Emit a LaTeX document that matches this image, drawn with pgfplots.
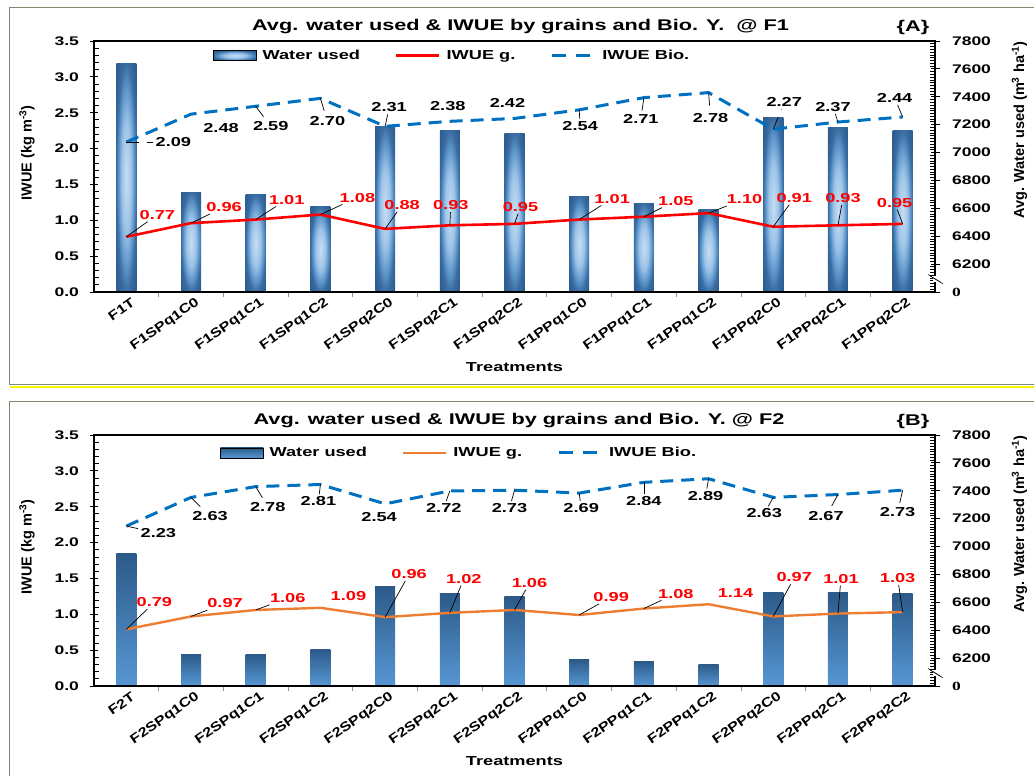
\documentclass[border=0pt]{standalone}
\usepackage{pgfplots}
\usepackage{pgfplotstable}
\pgfplotsset{compat=1.18}
\usepackage{fontspec}
\setmainfont{Liberation Sans}[FakeStretch=1.4]
\newfontfamily\xtfont{Liberation Sans}[FakeStretch=1.25]
\newfontfamily\ylfont{Liberation Sans}
\newfontfamily\zfont{Liberation Serif}[FakeStretch=1.4]

\definecolor{barlight}{HTML}{C8DEF2}
\definecolor{barmid}{HTML}{9CC3E8}
\definecolor{barmid2}{HTML}{5A92C8}
\definecolor{baredge}{HTML}{3A6DA2}
\definecolor{bardark}{HTML}{2D5F93}
\definecolor{bartop}{HTML}{2C5A89}
\definecolor{barbot}{HTML}{5797D4}
\definecolor{biob}{HTML}{0070C0}
\definecolor{orng}{HTML}{ED7D31}
\definecolor{framec}{HTML}{7D8A6B}
\definecolor{axgray}{HTML}{8C96A0}
\pgfdeclareradialshading{barrad}{\pgfpoint{0bp}{0bp}}{color(0bp)=(barlight); color(12bp)=(barmid); color(20bp)=(barmid2); color(25bp)=(baredge); color(32bp)=(bardark); color(50bp)=(bardark)}

\pgfplotstableread{
x w g gdx gdy gl b bdx bdy bl
0 7640 0.77 31 22 1 2.09 47 0 1
1 6717 0.96 33 16 1 2.48 30 -14 0
2 6696 1.01 31 20 1 2.59 15 -20 1
3 6610 1.08 37 17 1 2.70 7 -23 1
4 7190 0.88 17 24 1 2.31 4 19 1
5 7155 0.93 1 20 1 2.38 -2 15 0
6 7140 0.95 6 17 1 2.42 -7 15 0
7 6685 1.01 33 21 1 2.54 1 -16 1
8 6636 1.05 32 16 1 2.71 -3 -21 1
9 6593 1.10 36 14 1 2.78 2 -25 1
10 7249 0.91 21 29 1 2.27 11 27 1
11 7178 0.93 5 27 1 2.37 -5 15 1
12 7156 0.95 -8 21 1 2.44 -8 19 1
}\tabA

\pgfplotstableread{
x w g gdx gdy gl b bdx bdy bl
0 6952 0.79 28 27 1 2.23 32 -7 1
1 6227 0.97 34 13 1 2.63 19 -19 1
2 6227 1.06 32 12 1 2.78 12 -20 1
3 6263 1.09 28 12 0 2.81 -2 -17 1
4 6714 0.96 24 43 1 2.54 -6 -13 0
5 6664 1.02 14 34 1 2.72 -6 -17 1
6 6642 1.06 15 27 1 2.73 -5 -18 1
7 6191 0.99 32 18 1 2.69 2 -15 1
8 6177 1.08 32 15 1 2.84 0 -19 1
9 6155 1.14 27 11 0 2.89 -3 -17 1
10 6671 0.97 21 39 1 2.63 -9 -16 1
11 6671 1.01 3 35 1 2.67 -12 -22 1
12 6664 1.03 -5 34 1 2.73 -5 -22 1
}\tabB

\pgfplotsset{
  base/.style={
    scale only axis, width=841pt, height=251pt, anchor=south west,
    xmin=-0.5, xmax=12.5, clip=false,
    tick align=center, major tick length=9pt, minor tick length=5pt,
    every tick/.style={black, line width=0.8pt},
    tick label style={font=\fontsize{12.5}{14}\selectfont\bfseries},
    label style={font=\fontsize{14.5}{16}\ylfont\bfseries},
  },
  barax/.style={
    base, ymin=0, ymax=1800, axis x line=none, axis y line*=right,
    y axis line style={black, line width=1.3pt},
    ytick={0,200,...,1800},
    yticklabels={{\zfont\bfseries 0},6200,6400,6600,6800,7000,7200,7400,7600,7800},
    yticklabel style={xshift=9pt},
    minor y tick num=9,
    minor y tick style={xshift=-2.5pt},
    ylabel={Avg. Water used (m\textsuperscript{3} ha\textsuperscript{-1})},
    ylabel style={at={(ticklabel cs:0.645,14pt)}},
  },
  lineax/.style={
    base, ymin=0, ymax=3.5,
    x axis line style={axgray, line width=1pt},
    y axis line style={black, line width=1.3pt},
    xtick pos=bottom, ytick pos=left,
    ytick={0,0.5,...,3.5}, yticklabels={0.0,0.5,1.0,1.5,2.0,2.5,3.0,3.5},
    yticklabel style={xshift=-7pt},
    minor y tick num=4, minor y tick style={xshift=2.5pt},
    xtick={0,...,12},
    major x tick style={draw=none},
    minor xtick={0.5,1.5,...,11.5}, minor x tick style={axgray, yshift=-2.5pt},
    xticklabel style={font=\fontsize{13}{15}\xtfont\bfseries, rotate=35, anchor=east, inner sep=1pt, xshift=4pt, yshift=-8pt},
    ylabel={IWUE (kg m\textsuperscript{-3})}, ylabel style={at={(ticklabel cs:0.554,13pt)}},
    xlabel={Treatments},
    xlabel style={at={(rel axis cs:0.5,0)}, anchor=center, yshift=-75pt, font=\fontsize{13}{15}\selectfont\bfseries},
    title style={font=\fontsize{15.5}{18}\selectfont\bfseries, at={(rel axis cs:0.5,1)}, anchor=center, yshift=8pt},
    legend columns=3,
    legend style={draw=none, fill=none, inner sep=0pt, anchor=west,
      font=\fontsize{13}{15}\selectfont\bfseries,
      nodes={inner xsep=1pt, inner ysep=1pt},
      /tikz/every odd column/.append style={column sep=5pt},
      /tikz/every even column/.append style={column sep=34pt}},
    after end axis/.code={
      \fill[white] ([xshift=-2pt,yshift=-3pt]rel axis cs:1,0.052) rectangle ([xshift=2pt,yshift=3pt]rel axis cs:1,0.052);
      \draw[black, line width=0.5pt] ([xshift=-7pt,yshift=4.5pt]rel axis cs:1,0.052) -- ([xshift=6pt,yshift=-3.5pt]rel axis cs:1,0.052);
      \draw[black, line width=0.5pt] ([xshift=-5pt,yshift=3pt]rel axis cs:1,0.052) -- ([xshift=8pt,yshift=-5pt]rel axis cs:1,0.052);
    },
  },
  labs/.style n args={4}{
    point meta=explicit symbolic,
    visualization depends on={\thisrow{#1}\as\ldx},
    visualization depends on={\thisrow{#2}\as\ldy},
    visualization depends on={\thisrow{#3}\as\lop},
    nodes near coords={\pgfplotspointmeta},
    every node near coord/.append style={
      font=\fontsize{13}{15}\selectfont\bfseries, text=#4, anchor=center, inner sep=1pt,
      xshift=\ldx pt, yshift=\ldy pt,
      append after command={([xshift={-(\ldx)*1pt}, yshift={-(\ldy)*1pt}]\tikzlastnode.center) edge[draw=black, line width=0.7pt, draw opacity=\lop] (\tikzlastnode)}
    },
  },
}

\begin{document}
\begin{tikzpicture}
\useasboundingbox (0pt,0pt) rectangle (1034pt,776pt);
% panel frames
\draw[framec, line width=1pt] (9.5pt,391pt) rectangle (1050pt,768pt);
\draw[yellow, line width=2pt] (9.5pt,389pt) -- (1050pt,389pt);
\draw[framec, line width=1pt] (9.5pt,-20pt) rectangle (1050pt,374pt);

% ================= Panel A =================
\begin{axis}[barax, at={(94pt,484pt)}]
\pgfplotsinvokeforeach{0,...,12}{
  \addplot[ybar, bar width=0.31, draw=none, shade, shading=barrad,
    x filter/.expression={abs(x-#1)<0.1 ? x : nan}]
    table[x=x, y expr=\thisrow{w}-6000] {\tabA};
}
\end{axis}
\begin{axis}[lineax, at={(94pt,484pt)},
  xticklabels={F1T,F1SPq1C0,F1SPq1C1,F1SPq1C2,F1SPq2C0,F1SPq2C1,F1SPq2C2,F1PPq1C0,F1PPq1C1,F1PPq1C2,F1PPq2C0,F1PPq2C1,F1PPq2C2},
  title={Avg. water used \& IWUE by grains and Bio. Y.\ \ @ F1},
  title style={xshift=6pt},
  legend style={at={(0.1415,0.942)}},
]
\addlegendimage{legend image code/.code={\path[shade, shading=barrad] (0pt,-5pt) rectangle (43pt,5pt);}}
\addlegendentry{Water used}
\addlegendimage{legend image code/.code={\draw[red, line width=2.6pt] (0pt,0pt) -- (43pt,0pt);}}
\addlegendentry{IWUE g.}
\addlegendimage{legend image code/.code={\draw[biob, line width=3pt, dash pattern=on 14pt off 10pt] (0pt,0pt) -- (43pt,0pt);}}
\addlegendentry{IWUE Bio.}
\addplot[biob, line width=3pt, dash pattern=on 13pt off 8pt, mark=none, forget plot, labs={bdx}{bdy}{bl}{black}] table[x=x, y=b, meta=b] {\tabA};
\addplot[red, line width=2.6pt, mark=none, forget plot, labs={gdx}{gdy}{gl}{red}] table[x=x, y=g, meta=g] {\tabA};
\end{axis}
\node[font=\fontsize{15.5}{18}\selectfont\bfseries] at (913pt,748pt) {\{A\}};

% ================= Panel B =================
\begin{axis}[barax, at={(94pt,90pt)}]
\pgfplotsinvokeforeach{0,...,12}{
  \addplot[ybar, bar width=0.31, draw=none, top color=bartop, bottom color=barbot,
    x filter/.expression={abs(x-#1)<0.1 ? x : nan}]
    table[x=x, y expr=\thisrow{w}-6000] {\tabB};
}
\end{axis}
\begin{axis}[lineax, at={(94pt,90pt)},
  xticklabels={F2T,F2SPq1C0,F2SPq1C1,F2SPq1C2,F2SPq2C0,F2SPq2C1,F2SPq2C2,F2PPq1C0,F2PPq1C1,F2PPq1C2,F2PPq2C0,F2PPq2C1,F2PPq2C2},
  title={Avg. water used \& IWUE by grains and Bio. Y. @ F2},
  title style={xshift=4.5pt},
  legend style={at={(0.1498,0.9286)}},
]
\addlegendimage{legend image code/.code={\path[top color=bartop, bottom color=barbot] (0pt,-5pt) rectangle (43pt,5pt);}}
\addlegendentry{Water used}
\addlegendimage{legend image code/.code={\draw[orng, line width=2.4pt] (0pt,0pt) -- (43pt,0pt);}}
\addlegendentry{IWUE g.}
\addlegendimage{legend image code/.code={\draw[biob, line width=3pt, dash pattern=on 14pt off 10pt] (0pt,0pt) -- (43pt,0pt);}}
\addlegendentry{IWUE Bio.}
\addplot[biob, line width=3pt, dash pattern=on 13pt off 8pt, mark=none, forget plot, labs={bdx}{bdy}{bl}{black}] table[x=x, y=b, meta=b] {\tabB};
\addplot[orng, line width=2.4pt, mark=none, forget plot, labs={gdx}{gdy}{gl}{red}] table[x=x, y=g, meta=g] {\tabB};
\end{axis}
\node[font=\fontsize{15.5}{18}\selectfont\bfseries] at (913pt,355pt) {\{B\}};
\end{tikzpicture}
\end{document}
